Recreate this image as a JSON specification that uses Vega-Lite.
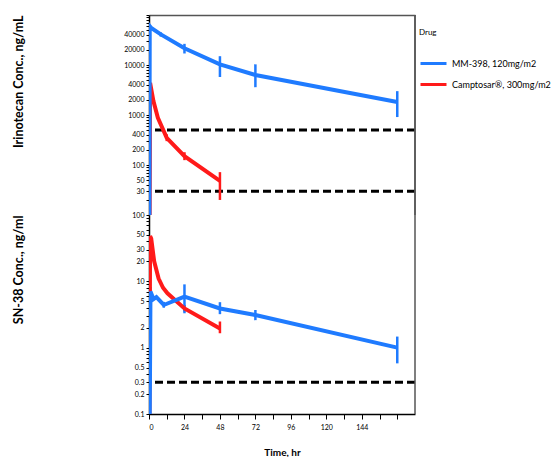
{
  "$schema": "https://vega.github.io/schema/vega-lite/v6.json",
  "padding": {"left": 12, "top": 11, "right": 0, "bottom": 0},
  "spacing": 0,
  "bounds": "flush",
  "config": {
    "view": {"stroke": null},
    "font": "Lato",
    "axis": {
      "domainColor": "#000000",
      "domainWidth": 1.5,
      "tickColor": "#000000",
      "tickSize": 3,
      "labelFontSize": 7,
      "labelColor": "#000000",
      "labelOverlap": false,
      "grid": false,
      "titleFontWeight": "bold",
      "titleColor": "#000000"
    }
  },
  "datasets": {
    "irino": [
      {"drug": "Camptosar®, 300mg/m2", "t": 0, "conc": 0.001},
      {"drug": "Camptosar®, 300mg/m2", "t": 0.75, "conc": 4400},
      {"drug": "Camptosar®, 300mg/m2", "t": 3, "conc": 1900},
      {"drug": "Camptosar®, 300mg/m2", "t": 6, "conc": 880},
      {"drug": "Camptosar®, 300mg/m2", "t": 12, "conc": 350, "lo": 300, "hi": 410},
      {"drug": "Camptosar®, 300mg/m2", "t": 24, "conc": 150, "lo": 125, "hi": 180},
      {"drug": "Camptosar®, 300mg/m2", "t": 48, "conc": 48, "lo": 20, "hi": 72},
      {"drug": "MM-398, 120mg/m2", "t": 0, "conc": 0.001},
      {"drug": "MM-398, 120mg/m2", "t": 0.5, "conc": 60000},
      {"drug": "MM-398, 120mg/m2", "t": 1.5, "conc": 55000},
      {"drug": "MM-398, 120mg/m2", "t": 8, "conc": 41000, "lo": 37000, "hi": 45000},
      {"drug": "MM-398, 120mg/m2", "t": 24, "conc": 21600, "lo": 17000, "hi": 26500},
      {"drug": "MM-398, 120mg/m2", "t": 48, "conc": 10300, "lo": 5750, "hi": 15000},
      {"drug": "MM-398, 120mg/m2", "t": 72, "conc": 6300, "lo": 3600, "hi": 10300},
      {"drug": "MM-398, 120mg/m2", "t": 168, "conc": 1820, "lo": 910, "hi": 3000}
    ],
    "sn38": [
      {"drug": "Camptosar®, 300mg/m2", "t": 0, "conc": 0.001},
      {"drug": "Camptosar®, 300mg/m2", "t": 0.75, "conc": 48},
      {"drug": "Camptosar®, 300mg/m2", "t": 1.5, "conc": 44},
      {"drug": "Camptosar®, 300mg/m2", "t": 3.5, "conc": 20},
      {"drug": "Camptosar®, 300mg/m2", "t": 6.5, "conc": 11},
      {"drug": "Camptosar®, 300mg/m2", "t": 9.5, "conc": 8},
      {"drug": "Camptosar®, 300mg/m2", "t": 12.5, "conc": 6.6},
      {"drug": "Camptosar®, 300mg/m2", "t": 24, "conc": 3.9, "lo": 3.5, "hi": 4.4},
      {"drug": "Camptosar®, 300mg/m2", "t": 48, "conc": 1.95, "lo": 1.65, "hi": 2.48},
      {"drug": "MM-398, 120mg/m2", "t": 0, "conc": 0.001},
      {"drug": "MM-398, 120mg/m2", "t": 1, "conc": 7.0, "lo": 5.0, "hi": 8.2},
      {"drug": "MM-398, 120mg/m2", "t": 3, "conc": 5.4},
      {"drug": "MM-398, 120mg/m2", "t": 5, "conc": 5.8},
      {"drug": "MM-398, 120mg/m2", "t": 10, "conc": 4.4, "lo": 4.0, "hi": 4.9},
      {"drug": "MM-398, 120mg/m2", "t": 24, "conc": 5.9, "lo": 3.3, "hi": 9.0},
      {"drug": "MM-398, 120mg/m2", "t": 48, "conc": 3.9, "lo": 3.2, "hi": 4.85},
      {"drug": "MM-398, 120mg/m2", "t": 72, "conc": 3.1, "lo": 2.6, "hi": 3.7},
      {"drug": "MM-398, 120mg/m2", "t": 168, "conc": 1.0, "lo": 0.58, "hi": 1.47}
    ],
    "lloqIr": [{"v": 500}, {"v": 30}],
    "lloqSn": [{"v": 0.3}]
  },
  "vconcat": [
    {
      "width": 266,
      "height": 200,
      "layer": [
        {
          "data": {"name": "lloqIr"},
          "mark": {"type": "rule", "color": "#000000", "strokeWidth": 3, "strokeDash": [8, 4]},
          "encoding": {
            "y": {
              "field": "v", "type": "quantitative",
              "scale": {"type": "log", "domain": [10, 100000], "nice": false},
              "axis": {
                "title": "Irinotecan Conc., ng/mL",
                "titleFontSize": 12.5,
                "titleAnchor": "end",
                "titleX": -124,
                "format": "~g",
                "tickCount": 60,
                "values": [20, 30, 40, 50, 60, 70, 80, 90, 100, 200, 300, 400, 500, 600, 700, 800, 900, 1000, 2000, 3000, 4000, 5000, 6000, 7000, 8000, 9000, 10000, 20000, 30000, 40000, 50000, 60000, 70000, 80000, 90000, 100000],
                "labelExpr": "indexof([30, 50, 100, 200, 400, 1000, 2000, 4000, 10000, 20000, 40000], datum.value) >= 0 ? datum.label : ''"
              }
            }
          }
        },
        {
          "data": {"name": "irino"},
          "transform": [{"filter": "isValid(datum.lo)"}],
          "mark": {"type": "rule", "strokeWidth": 2.5},
          "encoding": {
            "x": {"field": "t", "type": "quantitative", "scale": {"domain": [0, 180], "nice": false},
                  "axis": {"orient": "top", "title": null, "labels": false, "ticks": false, "domainColor": "#555555"}},
            "y": {"field": "lo", "type": "quantitative"},
            "y2": {"field": "hi"},
            "color": {"field": "drug", "type": "nominal",
                      "scale": {"domain": ["MM-398, 120mg/m2", "Camptosar®, 300mg/m2"], "range": ["#1f7bff", "#ff1a1a"]}}
          }
        },
        {
          "data": {"name": "irino"},
          "mark": {"type": "line", "strokeWidth": 4, "clip": true},
          "encoding": {
            "x": {"field": "t", "type": "quantitative"},
            "y": {"field": "conc", "type": "quantitative"},
            "color": {
              "field": "drug", "type": "nominal",
              "legend": {
                "title": "Drug",
                "orient": "right",
                "offset": -12,
                "padding": 14,
                "titleFontSize": 8,
                "titleFontWeight": "normal",
                "titlePadding": 12,
                "symbolType": "stroke",
                "symbolSize": 676,
                "symbolStrokeWidth": 3,
                "labelFontSize": 9,
                "rowPadding": -1
              }
            },
            "order": {"field": "t"}
          }
        },
        {
          "data": {"name": "lloqIr"},
          "mark": {"type": "rule", "color": "#555555", "strokeWidth": 1.5},
          "encoding": {"x": {"datum": 180}}
        }
      ]
    },
    {
      "width": 266,
      "height": 199,
      "layer": [
        {
          "data": {"name": "lloqSn"},
          "mark": {"type": "rule", "color": "#000000", "strokeWidth": 3, "strokeDash": [8, 4]},
          "encoding": {
            "y": {
              "field": "v", "type": "quantitative",
              "scale": {"type": "log", "domain": [0.1, 100], "nice": false},
              "axis": {
                "title": "SN-38 Conc., ng/ml",
                "titleFontSize": 12.5,
                "titleAnchor": "end",
                "titleX": -124,
                "format": "~g",
                "tickCount": 60,
                "values": [0.1, 0.2, 0.3, 0.4, 0.5, 0.6, 0.7, 0.8, 0.9, 1, 2, 3, 4, 5, 6, 7, 8, 9, 10, 20, 30, 40, 50, 60, 70, 80, 90, 100],
                "labelExpr": "indexof([0.1, 0.2, 0.3, 0.5, 1, 2, 5, 10, 20, 30, 50, 100], datum.value) >= 0 ? datum.label : ''"
              }
            }
          }
        },
        {
          "data": {"name": "sn38"},
          "transform": [{"filter": "isValid(datum.lo)"}],
          "mark": {"type": "rule", "strokeWidth": 2.5},
          "encoding": {
            "x": {"field": "t", "type": "quantitative", "scale": {"domain": [0, 180], "nice": false},
                  "axis": {
                    "title": "Time, hr",
                    "titleFontSize": 10,
                    "titlePadding": 17,
                    "tickSize": 5,
                    "labelPadding": 4,
                    "tickCount": 30,
                    "values": [0, 12, 24, 36, 48, 60, 72, 84, 96, 108, 120, 132, 144, 156, 168],
                    "labelExpr": "(datum.value % 24 == 0 && datum.value <= 144) ? datum.label : ''"
                  }},
            "y": {"field": "lo", "type": "quantitative"},
            "y2": {"field": "hi"},
            "color": {"field": "drug", "type": "nominal"}
          }
        },
        {
          "data": {"name": "sn38"},
          "mark": {"type": "line", "strokeWidth": 4, "clip": true},
          "encoding": {
            "x": {"field": "t", "type": "quantitative"},
            "y": {"field": "conc", "type": "quantitative"},
            "color": {"field": "drug", "type": "nominal"},
            "order": {"field": "t"}
          }
        },
        {
          "data": {"name": "lloqSn"},
          "mark": {"type": "rule", "color": "#555555", "strokeWidth": 1.5},
          "encoding": {"x": {"datum": 180}}
        }
      ]
    }
  ]
}
